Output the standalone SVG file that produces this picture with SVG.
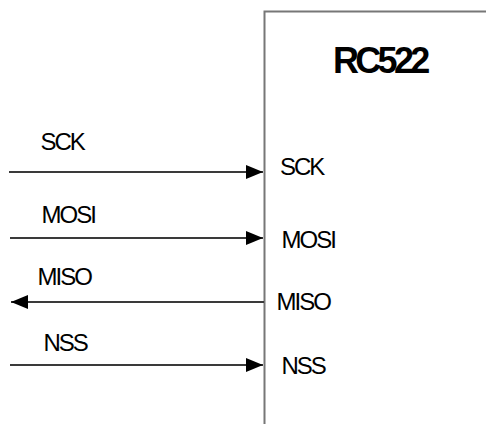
<svg xmlns="http://www.w3.org/2000/svg" width="486" height="424" viewBox="0 0 486 424">
<style>
.lbl{font-family:"Liberation Sans",Arial,sans-serif;font-size:24px;fill:#000;letter-spacing:-2px}
.title{font-family:"Liberation Sans",Arial,sans-serif;font-size:36px;font-weight:bold;fill:#000;letter-spacing:-3.7px}
.wire{stroke:#3a3a3a;stroke-width:2;fill:none}
</style>
<defs>
<marker id="ah" viewBox="0 0 17 14" refX="17" refY="7" markerWidth="17" markerHeight="14" markerUnits="userSpaceOnUse" orient="auto">
<path d="M0,0 L17,7 L0,14 Z" fill="#000"/>
</marker>
</defs>
<rect width="486" height="424" fill="#fff"/>
<g id="rc522">
<path d="M264.5,424 V11.5 H486" stroke="#777" stroke-width="2" fill="none"/>
<text class="title" x="333" y="73">RC522</text>
<text class="lbl" x="280" y="175">SCK</text>
<text class="lbl" x="281.5" y="248">MOSI</text>
<text class="lbl" x="276.5" y="310">MISO</text>
<text class="lbl" x="281.5" y="374">NSS</text>
</g>
<g id="connectors">
<line class="wire" x1="9" y1="172" x2="263" y2="172" marker-end="url(#ah)"/>
<line class="wire" x1="10" y1="238" x2="263" y2="238" marker-end="url(#ah)"/>
<line class="wire" x1="264" y1="302" x2="11" y2="302" marker-end="url(#ah)"/>
<line class="wire" x1="10" y1="365" x2="263" y2="365" marker-end="url(#ah)"/>
</g>
<g id="labels">
<text class="lbl" x="40.5" y="150">SCK</text>
<text class="lbl" x="41.5" y="223">MOSI</text>
<text class="lbl" x="37.5" y="285">MISO</text>
<text class="lbl" x="43.5" y="351">NSS</text>
</g>
</svg>
